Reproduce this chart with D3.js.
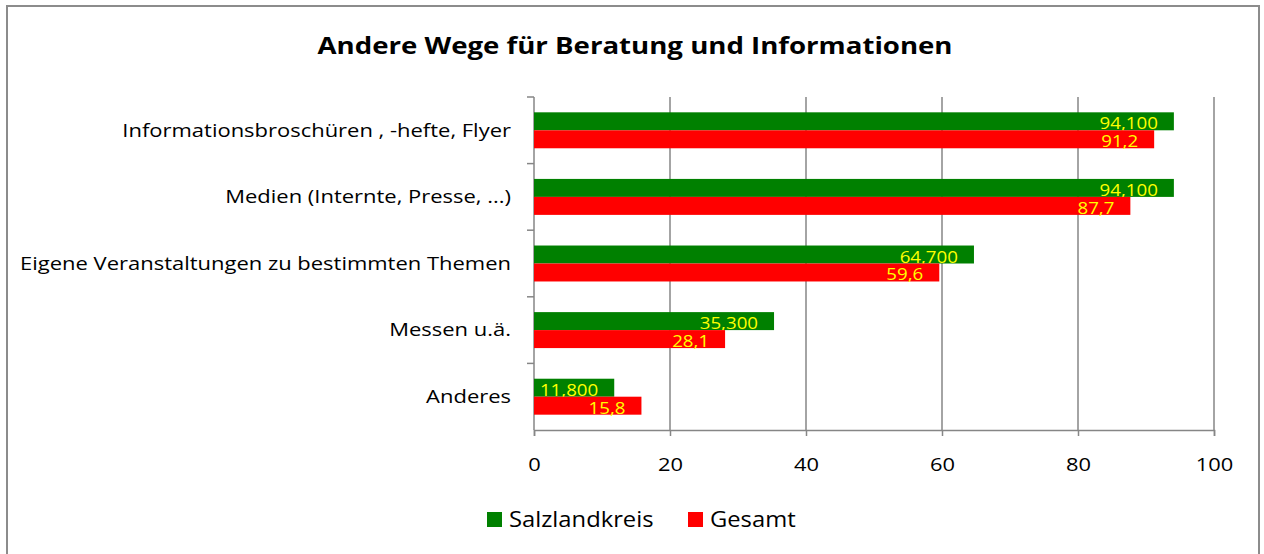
<!DOCTYPE html>
<html><head><meta charset="utf-8">
<script src="https://cdn.jsdelivr.net/npm/d3@7"></script>
<style>html,body{margin:0;padding:0;background:#fff;}svg{display:block;}</style>
</head><body>
<svg id="c" width="1264" height="554"></svg>
<script>
const categories = ["Informationsbroschüren , -hefte, Flyer","Medien (Internte, Presse, ...)","Eigene Veranstaltungen zu bestimmten Themen","Messen u.ä.","Anderes"];
const salzland = [94.1, 94.1, 64.7, 35.3, 11.8];
const salzlandLabels = ["94,100","94,100","64,700","35,300","11,800"];
const gesamt = [91.2, 87.7, 59.6, 28.1, 15.8];
const gesamtLabels = ["91,2","87,7","59,6","28,1","15,8"];
const xTicks = [0,20,40,60,80,100];
const seriesNames = ["Salzlandkreis","Gesamt"];
const colors = ["#008000","#FF0000"];

const svg = d3.select("#c");
const font = "'Open Sans', sans-serif";

function stretch(sel, f){
  sel.each(function(){
    const w = this.getComputedTextLength();
    d3.select(this).attr("textLength", w*f).attr("lengthAdjust","spacingAndGlyphs");
  });
}

// frame
svg.append("rect").attr("x",7).attr("y",6).attr("width",1252).attr("height",560)
  .attr("fill","#fff").attr("stroke","#8c8c8c").attr("stroke-width",2);

const title = svg.append("text").attr("x",635).attr("y",54).attr("text-anchor","middle")
  .attr("font-family",font).attr("font-weight","bold").attr("font-size",24)
  .attr("fill","#000").text("Andere Wege für Beratung und Informationen");
stretch(title, 1.15);

const x = d3.scaleLinear().domain([0,100]).range([534,1214]);
const y = d3.scaleBand().domain(categories).range([97,430]).paddingInner(0.46).paddingOuter(0.23);
const step = y.step();
const grid = "#868686";

// gridlines
svg.append("g").selectAll("line").data(xTicks.slice(1)).join("line")
  .attr("x1",d=>x(d)).attr("x2",d=>x(d)).attr("y1",97).attr("y2",430)
  .attr("stroke",grid).attr("stroke-width",1.5);

// y axis line and ticks at category boundaries
svg.append("line").attr("x1",534).attr("x2",534).attr("y1",97).attr("y2",430).attr("stroke",grid).attr("stroke-width",1.5);
const bounds = categories.map(c=>y(c)-y.paddingInner()*step/2);
svg.append("g").selectAll("line").data(bounds).join("line")
  .attr("x1",527).attr("x2",534).attr("y1",d=>d).attr("y2",d=>d).attr("stroke",grid).attr("stroke-width",1.5);

// x axis
const xAxis = d3.axisBottom(x).tickValues(xTicks).tickSize(6).tickPadding(22).tickFormat(d=>d);
const gx = svg.append("g").attr("transform","translate(0,430)").call(xAxis);
gx.select(".domain").attr("stroke",grid).attr("stroke-width",1.5);
gx.selectAll(".tick line").attr("stroke",grid).attr("stroke-width",1.5);
gx.selectAll(".tick text").attr("font-family",font).attr("font-size",19).attr("fill","#000");
stretch(gx.selectAll(".tick text"), 1.15);

// category labels
const cl = svg.append("g").selectAll("text").data(categories).join("text")
  .attr("x",511).attr("y",d=>y(d)+y.bandwidth()/2).attr("dy","0.35em")
  .attr("text-anchor","end").attr("font-family",font).attr("font-size",18).attr("fill","#000")
  .text(d=>d);
stretch(cl, 1.22);

const bh = y.bandwidth()/2;
const series = [salzland, gesamt];
const labels = [salzlandLabels, gesamtLabels];
series.forEach((vals,si)=>{
  svg.append("g").selectAll("rect").data(vals).join("rect")
    .attr("x",x(0)).attr("y",(d,i)=>y(categories[i])+si*bh)
    .attr("width",d=>x(d)-x(0)).attr("height",bh)
    .attr("fill",colors[si]);
  const vl = svg.append("g").selectAll("text").data(vals).join("text")
    .attr("x",d=>x(d)-16).attr("y",(d,i)=>y(categories[i])+si*bh+bh-1)
    .attr("text-anchor","end").attr("font-family",font).attr("font-size",17)
    .attr("fill","#FFFF00").text((d,i)=>labels[si][i]);
  stretch(vl, 1.1);
});

// legend
const lg = svg.append("g");
const lx = [487, 688];
seriesNames.forEach((n,i)=>{
  lg.append("rect").attr("x",lx[i]).attr("y",512).attr("width",15).attr("height",15).attr("fill",colors[i]);
  const t = lg.append("text").attr("x",lx[i]+22).attr("y",527).attr("font-family",font)
    .attr("font-size",22).attr("fill","#000").text(n);
  stretch(t, 1.08);
});
</script>
</body></html>
